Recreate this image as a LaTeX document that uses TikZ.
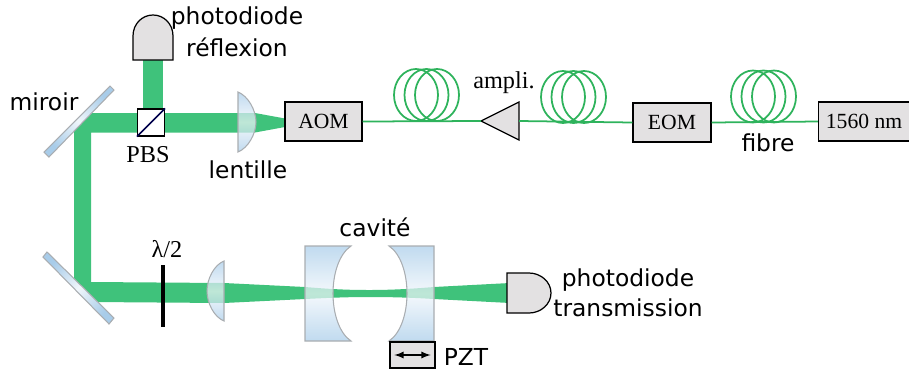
\documentclass[tikz,border=0pt]{standalone}
\usepackage{fontspec}
\setmainfont{DejaVu Sans}
\newfontfamily\timesfont{Liberation Serif}
\definecolor{faisceau}{HTML}{3FC27B}
\definecolor{fibrevert}{HTML}{2EB35C}
\definecolor{gris}{HTML}{E3E1E2}
\definecolor{bleu}{HTML}{A8CCE9}
\definecolor{bleupale}{HTML}{F0F6FB}
\definecolor{bord}{HTML}{A9ADB1}
\tikzset{
  boite/.style={draw, fill=gris, inner sep=0pt, minimum height=0.78cm, font=\timesfont\fontsize{12.3}{14}\selectfont},
  etiquette/.style={inner sep=0pt, font=\fontsize{13.3}{15}\selectfont},
  legende/.style={inner sep=0pt, font=\timesfont\fontsize{13.8}{15}\selectfont},
  fibre/.style={draw=fibrevert, line width=1pt},
  optique/.style={draw=bord, line width=0.6pt, top color=bleu, bottom color=bleu, middle color=bleupale, fill opacity=0.72},
  miroir/.style={draw=bord, line width=0.6pt, left color=bleu, right color=bleu, middle color=bleupale}
}
\begin{document}
\begin{tikzpicture}[x=0.02cm, y=-0.02cm, line width=0.7pt]
  \useasboundingbox (0,0) rectangle (909,369);
  % faisceau
  \fill[faisceau] (74,130) -- (91,113) -- (255,113) -- (285,118.5) -- (285,127) -- (255,132.5) -- (91,132.5) -- (91,282) -- (224,283) -- (305,287) .. controls (335,289.5) and (350,290) .. (370,290) .. controls (390,290) and (410,289) .. (434,287) -- (510,283) -- (510,303) -- (434,299) .. controls (410,297.5) and (390,297) .. (370,297) .. controls (350,297) and (335,297.5) .. (305,299) -- (224,303) -- (92,302) -- (74,284) -- cycle;
  \fill[faisceau] (143,60) rectangle (163,112);
  % miroirs
  \draw[miroir, shading angle=-45] (110,86) -- (114,90) -- (49,157) -- (44,152) -- cycle;
  \draw[miroir, shading angle=45] (47,252) -- (43,257) -- (109,324) -- (114,318) -- cycle;
  \node[etiquette] (miroirtxt) at (44,102) {miroir};
  % photodiode réflexion
  \draw[fill=gris] (133,60) -- (133,36) .. controls (133,24) and (142,15) .. (153,15) .. controls (164,15) and (173,24) .. (173,36) -- (173,60) -- cycle;
  \node[etiquette] (pdrtxt) at (237,18) {photodiode};
  \node[etiquette] (reftxt) at (237,47) {réflexion};
  % cube
  \node[draw, fill=white, inner sep=0pt, minimum width=0.54cm, minimum height=0.54cm] (pbs) at (151,122.5) {};
  \draw[color=black!70!blue, line width=1pt] (pbs.south west) -- (pbs.north east);
  \node[legende] (pbstxt) at (148,155) {PBS};
  % lentilles
  \draw[optique] (238,92) .. controls (248,96) and (256,110) .. (256,122) .. controls (256,134) and (248,148) .. (238,152) -- cycle;
  \node[etiquette] (lentxt) at (248,170) {lentille};
  \draw[optique] (224,261) .. controls (214,265) and (207,279) .. (207,291) .. controls (207,303) and (214,317) .. (224,321) -- cycle;
  % lame
  \draw[line width=2pt] (163,265) -- (163,327);
  \node[legende] (lametxt) at (167,249) {λ/2};
  % cavité
  \draw[optique] (351,246) .. controls (339,254) and (333,274) .. (333,293.5) .. controls (333,313) and (339,333) .. (351,341) -- (305,341) -- (305,246) -- cycle;
  \draw[optique] (389,246) .. controls (401,254) and (407,274) .. (407,293.5) .. controls (407,313) and (401,333) .. (389,341) -- (434,341) -- (434,246) -- cycle;
  \node[etiquette] (cavtxt) at (375,227) {cavité};
  % PZT
  \node[draw, fill=gris, inner sep=0pt, minimum width=0.9cm, minimum height=0.52cm] (pzt) at (412.5,355) {};
  \draw[latex-latex, line width=0.8pt] ([xshift=0.1cm]pzt.west) -- ([xshift=-0.1cm]pzt.east);
  \node[etiquette] (pzttxt) at (466,357) {PZT};
  % photodiode transmission
  \draw[fill=gris] (507,273) -- (529,273) .. controls (541,273) and (551,282) .. (551,293) .. controls (551,304) and (541,313) .. (529,313) -- (507,313) -- cycle;
  \node[etiquette] (pdttxt) at (628,280) {photodiode};
  \node[etiquette] (trtxt) at (628,308) {transmission};
  % boîtes
  \node[boite, minimum width=1.54cm] (aom) at (323.5,121.5) {AOM};
  \node[boite, minimum width=1.56cm] (eom) at (672,122.5) {EOM};
  \node[boite, minimum width=1.82cm] (laser) at (864,121.5) {1560 nm};
  % ampli
  \coordinate (amppointe) at (481,121);
  \coordinate (ampbase) at (519,121);
  \draw[fill=gris] (amppointe) -- (519,102) -- (519,140) -- cycle;
  \node[legende] (amptxt) at (504,83) {ampli.};
  % fibres
  \draw[fibre] (aom.east) -- (amppointe);
  \draw[fibre] (ampbase) -- (eom.west);
  \draw[fibre] (eom.east) -- (laser.west);
  \draw[fibre] (416,95) ellipse [x radius=22, y radius=26];
  \draw[fibre] (426.5,95) ellipse [x radius=22, y radius=26];
  \draw[fibre] (437,95) ellipse [x radius=22, y radius=26];
  \begin{scope}[shift={(147,2)}]
    \draw[fibre] (416,95) ellipse [x radius=22, y radius=26];
    \draw[fibre] (426.5,95) ellipse [x radius=22, y radius=26];
    \draw[fibre] (437,95) ellipse [x radius=22, y radius=26];
  \end{scope}
  \begin{scope}[shift={(337,1.5)}]
    \draw[fibre] (416,95) ellipse [x radius=22, y radius=26];
    \draw[fibre] (426.5,95) ellipse [x radius=22, y radius=26];
    \draw[fibre] (437,95) ellipse [x radius=22, y radius=26];
  \end{scope}
  \node[etiquette] (fibtxt) at (768,143) {fibre};
\end{tikzpicture}
\end{document}
